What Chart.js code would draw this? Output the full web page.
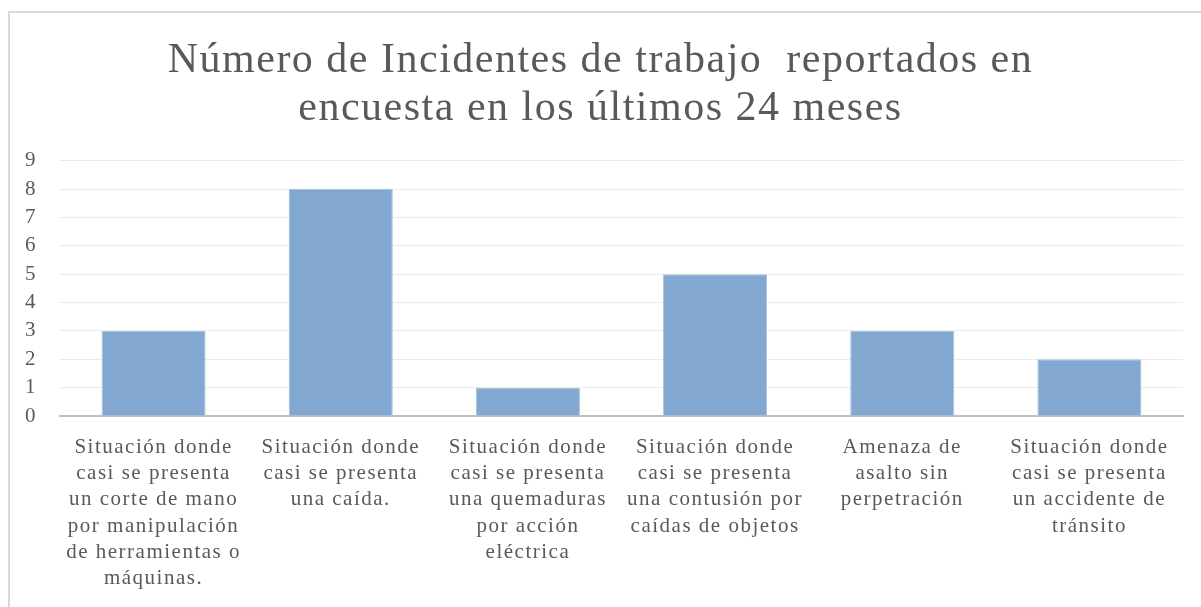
<!DOCTYPE html>
<html>
<head>
<meta charset="utf-8">
<script src="https://cdn.jsdelivr.net/npm/chart.js@4"></script>
<style>
body { margin: 0; background: #fff; overflow: hidden; }
#frame { position: absolute; left: 8px; top: 11px; width: 1300px; height: 700px; border: 2px solid #d9d9d9; }
#wrap { position: absolute; left: 0; top: 0; width: 1201px; height: 607px; }
</style>
</head>
<body>
<div id="frame"></div>
<div id="wrap"><canvas id="incidentes"></canvas></div>
<script>
// datos
var categorias = [
    ["Situación donde", "casi se presenta", "un corte de mano", "por manipulación", "de herramientas o", "máquinas."],
    ["Situación donde", "casi se presenta", "una caída."],
    ["Situación donde", "casi se presenta", "una quemaduras", "por acción", "eléctrica"],
    ["Situación donde", "casi se presenta", "una contusión por", "caídas de objetos"],
    ["Amenaza de", "asalto sin", "perpetración"],
    ["Situación donde", "casi se presenta", "un accidente de", "tránsito"]
]
var incidentes = [3, 8, 1, 5, 3, 2]
var titulo = ["Número de Incidentes de trabajo  reportados en", "encuesta en los últimos 24 meses"]
var gris = '#595959'

// el texto del original sale con letras mas separadas
var espaciado = {
    id: 'espaciado',
    beforeLayout: function(chart) { chart.ctx.letterSpacing = '1.5px'; },
    afterLayout: function(chart) {
        // titulo centrado en todo el ancho, no solo hasta el padding derecho
        if (chart.titleBlock) {
            chart.titleBlock.left = 0;
            chart.titleBlock.right = chart.width;
        }
    },
    beforeDraw: function(chart) { chart.ctx.letterSpacing = '1.5px'; }
}

var ctx = document.getElementById('incidentes').getContext('2d');
var chart = new Chart(ctx, {
    type: 'bar',
    data: {
        labels: categorias,
        datasets: [{
            data: incidentes,
            backgroundColor: '#82a7d1',
            borderColor: '#a8c1de',
            borderWidth: 1,
            barPercentage: 0.556,
            categoryPercentage: 1
        }]
    },
    plugins: [espaciado],
    options: {
        responsive: true,
        maintainAspectRatio: false,
        animation: false,
        layout: { padding: { left: 0, right: 18, top: 0, bottom: 0 } },
        plugins: {
            legend: { display: false },
            tooltip: { enabled: false },
            title: {
                display: true,
                text: titulo,
                color: gris,
                font: { family: 'Liberation Serif', size: 42, weight: 'normal', lineHeight: 1.14 },
                padding: { top: 37, bottom: 28 }
            }
        },
        scales: {
            x: {
                grid: { display: false },
                border: { display: true, color: '#bfbfbf', width: 2 },
                ticks: {
                    color: gris,
                    autoSkip: false,
                    maxRotation: 0,
                    padding: 10,
                    font: { family: 'Liberation Serif', size: 21, lineHeight: 1.255 }
                },
                afterFit: function(scale) { scale.height = 191; }
            },
            y: {
                min: 0,
                max: 9,
                ticks: {
                    stepSize: 1,
                    autoSkip: false,
                    color: gris,
                    padding: 23,
                    font: { family: 'Liberation Serif', size: 21 }
                },
                grid: { color: '#ebebeb', lineWidth: 1, drawTicks: false },
                border: { display: false },
                afterFit: function(scale) { scale.width = 60; }
            }
        }
    }
});
</script>
</body>
</html>
